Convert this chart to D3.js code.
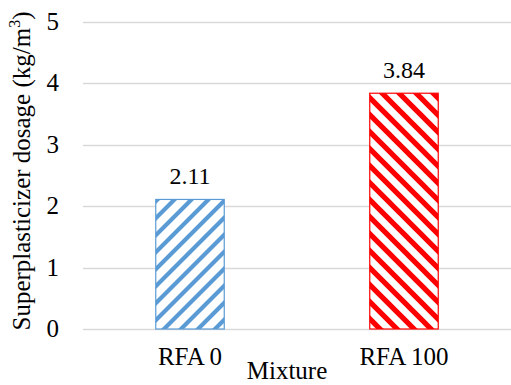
<!DOCTYPE html>
<html>
<head>
<meta charset="utf-8">
<script src="https://cdn.jsdelivr.net/npm/d3@7/dist/d3.min.js"></script>
<style>
  html, body { margin: 0; padding: 0; background: #fff; }
  svg { display: block; }
</style>
</head>
<body>
<svg id="chart" width="511" height="385"></svg>
<script>
// Superplasticizer dosage by mixture
const categories = ["RFA 0", "RFA 100"];
const dosage = [2.11, 3.84];
const yTicks = [0, 1, 2, 3, 4, 5];
const barColors = ["#5B9BD5", "#FF0000"];
const stripeDirs = ["up", "down"];

const FONT = '"Liberation Serif"';
const W = 511, H = 385;
const margin = { left: 83, right: 0, top: 22, bottom: 56 };
const svg = d3.select("#chart");
const defs = svg.append("defs");

const x = d3.scaleBand()
  .domain(categories)
  .range([margin.left, W - margin.right])
  .paddingInner(0.68)
  .paddingOuter(0.34);

const y = d3.scaleLinear()
  .domain([0, 5])
  .range([H - margin.bottom, margin.top]);

// diagonal stripe fills
const P = 17;
categories.forEach((c, i) => {
  const pat = defs.append("pattern")
    .attr("id", "stripe" + i)
    .attr("patternUnits", "userSpaceOnUse")
    .attr("width", P).attr("height", P);
  pat.append("rect").attr("width", P).attr("height", P).attr("fill", "#fff");
  const d = stripeDirs[i] === "up"
    ? `M0,${P} L${P},0 M${-P/2},${P/2} L${P/2},${-P/2} M${P/2},${1.5*P} L${1.5*P},${P/2}`
    : `M0,0 L${P},${P} M${-P/2},${P/2} L${P/2},${1.5*P} M${P/2},${-P/2} L${1.5*P},${P/2}`;
  pat.append("path").attr("d", d)
    .attr("stroke", barColors[i])
    .attr("stroke-width", i === 0 ? 4.2 : 5.2)
    .attr("fill", "none");
});

// gridlines
svg.append("g")
  .selectAll("line")
  .data(yTicks)
  .join("line")
  .attr("x1", margin.left).attr("x2", W - margin.right)
  .attr("y1", d => Math.round(y(d)) + 0.5).attr("y2", d => Math.round(y(d)) + 0.5)
  .attr("stroke", "#d9d9d9").attr("stroke-width", 1.3);

const txt = sel => sel.style("font-family", FONT).attr("fill", "#000");

// y tick labels
svg.append("g")
  .selectAll("text")
  .data(yTicks)
  .join("text")
  .call(txt)
  .attr("x", 59)
  .attr("y", d => y(d) + 8)
  .attr("text-anchor", "end")
  .attr("font-size", 25)
  .text(d => d);

// bars
svg.append("g")
  .selectAll("rect")
  .data(dosage)
  .join("rect")
  .attr("x", (d, i) => x(categories[i]))
  .attr("width", x.bandwidth())
  .attr("y", d => y(d))
  .attr("height", d => y(0) - y(d))
  .attr("fill", (d, i) => `url(#stripe${i})`)
  .attr("stroke", (d, i) => barColors[i])
  .attr("stroke-width", 1.2);

// value labels
svg.append("g")
  .selectAll("text")
  .data(dosage)
  .join("text")
  .call(txt)
  .attr("x", (d, i) => x(categories[i]) + x.bandwidth() / 2)
  .attr("y", d => y(d) - 15)
  .attr("text-anchor", "middle")
  .attr("font-size", 24)
  .text(d => d.toFixed(2));

// category labels
svg.append("g")
  .selectAll("text")
  .data(categories)
  .join("text")
  .call(txt)
  .attr("x", d => x(d) + x.bandwidth() / 2)
  .attr("y", 365)
  .attr("text-anchor", "middle")
  .attr("font-size", 25)
  .text(d => d);

// axis titles
svg.append("text")
  .call(txt)
  .attr("x", 287).attr("y", 379)
  .attr("text-anchor", "middle")
  .attr("font-size", 25)
  .text("Mixture");

const yt = svg.append("text")
  .call(txt)
  .attr("transform", `translate(30,171) rotate(-90)`)
  .attr("text-anchor", "middle")
  .attr("font-size", 25);
yt.append("tspan").text("Superplasticizer dosage (kg/m");
yt.append("tspan").attr("font-size", 16).attr("dy", -10).text("3");
yt.append("tspan").attr("dy", 10).text(")");
</script>
</body>
</html>
